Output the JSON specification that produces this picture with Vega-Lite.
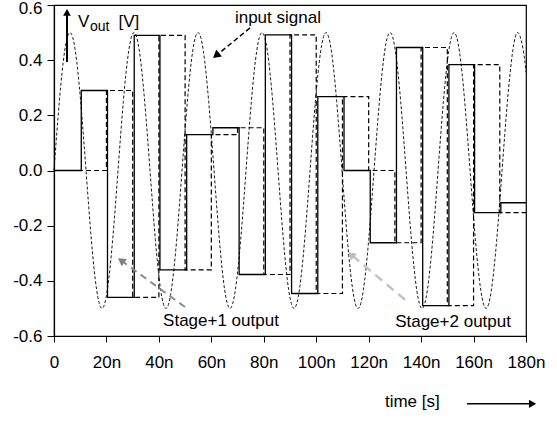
{
  "$schema": "https://vega.github.io/schema/vega-lite/v6.json",
  "width": 472,
  "height": 331,
  "autosize": {"type": "none"},
  "padding": {"left": 54, "top": 5, "right": 31, "bottom": 87},
  "background": "white",
  "config": {
    "view": {"stroke": "black", "strokeWidth": 1.2},
    "font": "Liberation Sans",
    "text": {"font": "Liberation Sans", "color": "black"}
  },
  "layer": [
    {
      "data": {"values": [
        {"t": 0.00, "v": 0}, {"t": 2.03, "v": 0.25}, {"t": 4.07, "v": 0.433}, {"t": 6.10, "v": 0.5}, {"t": 8.14, "v": 0.433}, {"t": 10.17, "v": 0.25},
        {"t": 12.21, "v": 0}, {"t": 14.24, "v": -0.25}, {"t": 16.27, "v": -0.433}, {"t": 18.31, "v": -0.5}, {"t": 20.34, "v": -0.433}, {"t": 22.38, "v": -0.25},
        {"t": 24.41, "v": 0}, {"t": 26.44, "v": 0.25}, {"t": 28.48, "v": 0.433}, {"t": 30.51, "v": 0.5}, {"t": 32.55, "v": 0.433}, {"t": 34.58, "v": 0.25},
        {"t": 36.62, "v": 0}, {"t": 38.65, "v": -0.25}, {"t": 40.68, "v": -0.433}, {"t": 42.72, "v": -0.5}, {"t": 44.75, "v": -0.433}, {"t": 46.79, "v": -0.25},
        {"t": 48.82, "v": 0}, {"t": 50.86, "v": 0.25}, {"t": 52.89, "v": 0.433}, {"t": 54.92, "v": 0.5}, {"t": 56.96, "v": 0.433}, {"t": 58.99, "v": 0.25},
        {"t": 61.03, "v": 0}, {"t": 63.06, "v": -0.25}, {"t": 65.09, "v": -0.433}, {"t": 67.13, "v": -0.5}, {"t": 69.16, "v": -0.433}, {"t": 71.20, "v": -0.25},
        {"t": 73.23, "v": 0}, {"t": 75.27, "v": 0.25}, {"t": 77.30, "v": 0.433}, {"t": 79.33, "v": 0.5}, {"t": 81.37, "v": 0.433}, {"t": 83.40, "v": 0.25},
        {"t": 85.44, "v": 0}, {"t": 87.47, "v": -0.25}, {"t": 89.50, "v": -0.433}, {"t": 91.54, "v": -0.5}, {"t": 93.57, "v": -0.433}, {"t": 95.61, "v": -0.25},
        {"t": 97.64, "v": 0}, {"t": 99.68, "v": 0.25}, {"t": 101.71, "v": 0.433}, {"t": 103.74, "v": 0.5}, {"t": 105.78, "v": 0.433}, {"t": 107.81, "v": 0.25},
        {"t": 109.85, "v": 0}, {"t": 111.88, "v": -0.25}, {"t": 113.92, "v": -0.433}, {"t": 115.95, "v": -0.5}, {"t": 117.98, "v": -0.433}, {"t": 120.02, "v": -0.25},
        {"t": 122.05, "v": 0}, {"t": 124.09, "v": 0.25}, {"t": 126.12, "v": 0.433}, {"t": 128.15, "v": 0.5}, {"t": 130.19, "v": 0.433}, {"t": 132.22, "v": 0.25},
        {"t": 134.26, "v": 0}, {"t": 136.29, "v": -0.25}, {"t": 138.33, "v": -0.433}, {"t": 140.36, "v": -0.5}, {"t": 142.39, "v": -0.433}, {"t": 144.43, "v": -0.25},
        {"t": 146.46, "v": 0}, {"t": 148.50, "v": 0.25}, {"t": 150.53, "v": 0.433}, {"t": 152.57, "v": 0.5}, {"t": 154.60, "v": 0.433}, {"t": 156.63, "v": 0.25},
        {"t": 158.67, "v": 0}, {"t": 160.70, "v": -0.25}, {"t": 162.74, "v": -0.433}, {"t": 164.77, "v": -0.5}, {"t": 166.80, "v": -0.433}, {"t": 168.84, "v": -0.25},
        {"t": 170.87, "v": 0}, {"t": 172.91, "v": 0.25}, {"t": 174.94, "v": 0.433}, {"t": 176.98, "v": 0.5}, {"t": 179.01, "v": 0.433}, {"t": 180.0, "v": 0.356}
      ]},
      "mark": {"type": "line", "interpolate": "natural", "color": "black", "strokeWidth": 0.9, "strokeDash": [3, 2]},
      "encoding": {
        "x": {"field": "t", "type": "quantitative", "scale": {"domain": [0, 180], "nice": false, "zero": false},
          "axis": {"values": [0, 20, 40, 60, 80, 100, 120, 140, 160, 180], "labelExpr": "datum.value == 0 ? '0' : datum.value + 'n'",
            "title": null, "grid": false, "tickSize": 6, "tickColor": "black", "tickWidth": 1, "domainColor": "black", "domainWidth": 1.2,
            "labelColor": "black", "labelFontSize": 17, "labelPadding": 12, "labelFont": "Liberation Sans", "labelFlush": false, "labelOverlap": false}},
        "y": {"field": "v", "type": "quantitative", "scale": {"domain": [-0.6, 0.6], "nice": false, "zero": false},
          "axis": {"values": [-0.6, -0.4, -0.2, 0, 0.2, 0.4, 0.6], "labelExpr": "replace(format(datum.value, '.1f'), '\u2212', '-')",
            "title": null, "grid": false, "tickSize": 7, "tickColor": "black", "tickWidth": 1, "domainColor": "black", "domainWidth": 1.2,
            "labelColor": "black", "labelFontSize": 17, "labelPadding": 5, "labelFont": "Liberation Sans", "labelFlush": false, "labelOverlap": false,
            "labelOffset": {"condition": {"test": "datum.value > 0.55", "value": 3}, "value": 0}}}
      }
    },
    {
      "data": {"values": [
        {"t": 0, "v": 0}, {"t": 10, "v": 0}, {"t": 20, "v": 0.29}, {"t": 30, "v": -0.46}, {"t": 40, "v": 0.49}, {"t": 50, "v": -0.36},
        {"t": 60, "v": 0.13}, {"t": 70, "v": 0.155}, {"t": 80, "v": -0.377}, {"t": 90, "v": 0.492}, {"t": 100, "v": -0.446}, {"t": 110, "v": 0.268},
        {"t": 120, "v": 0.0}, {"t": 130, "v": -0.262}, {"t": 140, "v": 0.446}, {"t": 150, "v": -0.49}, {"t": 160, "v": 0.384}, {"t": 170, "v": -0.153}, {"t": 180, "v": -0.153}
      ]},
      "mark": {"type": "line", "interpolate": "step-after", "color": "black", "strokeWidth": 1.2, "strokeDash": [5, 3]},
      "encoding": {"x": {"field": "t", "type": "quantitative"}, "y": {"field": "v", "type": "quantitative"}}
    },
    {
      "data": {"values": [
        {"t": 0, "v": 0}, {"t": 10.4, "v": 0.29}, {"t": 20.4, "v": -0.46}, {"t": 30.6, "v": 0.49}, {"t": 40.4, "v": -0.36}, {"t": 50.6, "v": 0.13},
        {"t": 60.6, "v": 0.155}, {"t": 70.6, "v": -0.377}, {"t": 80.6, "v": 0.492}, {"t": 90.6, "v": -0.446}, {"t": 100.6, "v": 0.268}, {"t": 110.6, "v": 0.0},
        {"t": 120.6, "v": -0.262}, {"t": 130.6, "v": 0.446}, {"t": 140.6, "v": -0.49}, {"t": 150.6, "v": 0.384}, {"t": 160.4, "v": -0.153}, {"t": 170.4, "v": -0.117}, {"t": 180, "v": -0.117}
      ]},
      "mark": {"type": "line", "interpolate": "step-after", "color": "black", "strokeWidth": 1.3},
      "encoding": {"x": {"field": "t", "type": "quantitative"}, "y": {"field": "v", "type": "quantitative"}}
    },
    {
      "data": {"values": [{"t": 74.75, "v": 0.517, "t2": 62.3, "v2": 0.42}]},
      "mark": {"type": "rule", "color": "black", "strokeWidth": 1.5, "strokeDash": [5, 3]},
      "encoding": {"x": {"field": "t", "type": "quantitative"}, "y": {"field": "v", "type": "quantitative"}, "x2": {"field": "t2"}, "y2": {"field": "v2"}}
    },
    {
      "data": {"values": [{"t": 61.8, "v": 0.417}]},
      "mark": {"type": "point", "shape": "triangle-up", "angle": 231, "size": 80, "filled": true, "color": "black", "opacity": 1},
      "encoding": {"x": {"field": "t", "type": "quantitative"}, "y": {"field": "v", "type": "quantitative"}}
    },
    {
      "data": {"values": [{"t": 49.96, "v": -0.495, "t2": 26.0, "v2": -0.329}]},
      "mark": {"type": "rule", "color": "#8c8c8c", "strokeWidth": 2, "strokeDash": [7, 5]},
      "encoding": {"x": {"field": "t", "type": "quantitative"}, "y": {"field": "v", "type": "quantitative"}, "x2": {"field": "t2"}, "y2": {"field": "v2"}}
    },
    {
      "data": {"values": [{"t": 25.6, "v": -0.326}]},
      "mark": {"type": "point", "shape": "triangle-up", "angle": 306, "size": 80, "filled": true, "color": "#808080", "opacity": 1},
      "encoding": {"x": {"field": "t", "type": "quantitative"}, "y": {"field": "v", "type": "quantitative"}}
    },
    {
      "data": {"values": [{"t": 133.9, "v": -0.469, "t2": 113.6, "v2": -0.307}]},
      "mark": {"type": "rule", "color": "#c4c4c4", "strokeWidth": 2.5, "strokeDash": [9, 6]},
      "encoding": {"x": {"field": "t", "type": "quantitative"}, "y": {"field": "v", "type": "quantitative"}, "x2": {"field": "t2"}, "y2": {"field": "v2"}}
    },
    {
      "data": {"values": [{"t": 113.3, "v": -0.305}]},
      "mark": {"type": "point", "shape": "triangle-up", "angle": 310, "size": 80, "filled": true, "color": "#bdbdbd", "opacity": 1},
      "encoding": {"x": {"field": "t", "type": "quantitative"}, "y": {"field": "v", "type": "quantitative"}}
    },
    {
      "data": {"values": [{"t": 4.96, "v": 0.393, "t2": 4.96, "v2": 0.565}]},
      "mark": {"type": "rule", "color": "black", "strokeWidth": 2},
      "encoding": {"x": {"field": "t", "type": "quantitative"}, "y": {"field": "v", "type": "quantitative"}, "x2": {"field": "t2"}, "y2": {"field": "v2"}}
    },
    {
      "data": {"values": [{"t": 4.96, "v": 0.573}]},
      "mark": {"type": "point", "shape": "triangle-up", "size": 60, "filled": true, "color": "black", "opacity": 1},
      "encoding": {"x": {"field": "t", "type": "quantitative"}, "y": {"field": "v", "type": "quantitative"}}
    },
    {
      "data": {"values": [{"t": 157.5, "v": -0.846, "t2": 181.5, "v2": -0.846}]},
      "mark": {"type": "rule", "color": "black", "strokeWidth": 1.5},
      "encoding": {"x": {"field": "t", "type": "quantitative"}, "y": {"field": "v", "type": "quantitative"}, "x2": {"field": "t2"}, "y2": {"field": "v2"}}
    },
    {
      "data": {"values": [{"t": 182.5, "v": -0.846}]},
      "mark": {"type": "point", "shape": "triangle-right", "size": 70, "filled": true, "color": "black", "opacity": 1},
      "encoding": {"x": {"field": "t", "type": "quantitative"}, "y": {"field": "v", "type": "quantitative"}}
    },
    {
      "data": {"values": [
        {"label": "input signal", "t": 69.0, "v": 0.553},
        {"label": "Stage+1 output", "t": 41.6, "v": -0.545},
        {"label": "Stage+2 output", "t": 130.1, "v": -0.548},
        {"label": "time [s]", "t": 126.2, "v": -0.839},
        {"label": "V", "t": 9.15, "v": 0.54},
        {"label": "[V]", "t": 24.6, "v": 0.54}
      ]},
      "mark": {"type": "text", "align": "left", "baseline": "middle", "fontSize": 17},
      "encoding": {"x": {"field": "t", "type": "quantitative"}, "y": {"field": "v", "type": "quantitative"}, "text": {"field": "label"}}
    },
    {
      "data": {"values": [{"label": "out", "t": 13.7, "v": 0.52}]},
      "mark": {"type": "text", "align": "left", "baseline": "middle", "fontSize": 14},
      "encoding": {"x": {"field": "t", "type": "quantitative"}, "y": {"field": "v", "type": "quantitative"}, "text": {"field": "label"}}
    }
  ]
}
